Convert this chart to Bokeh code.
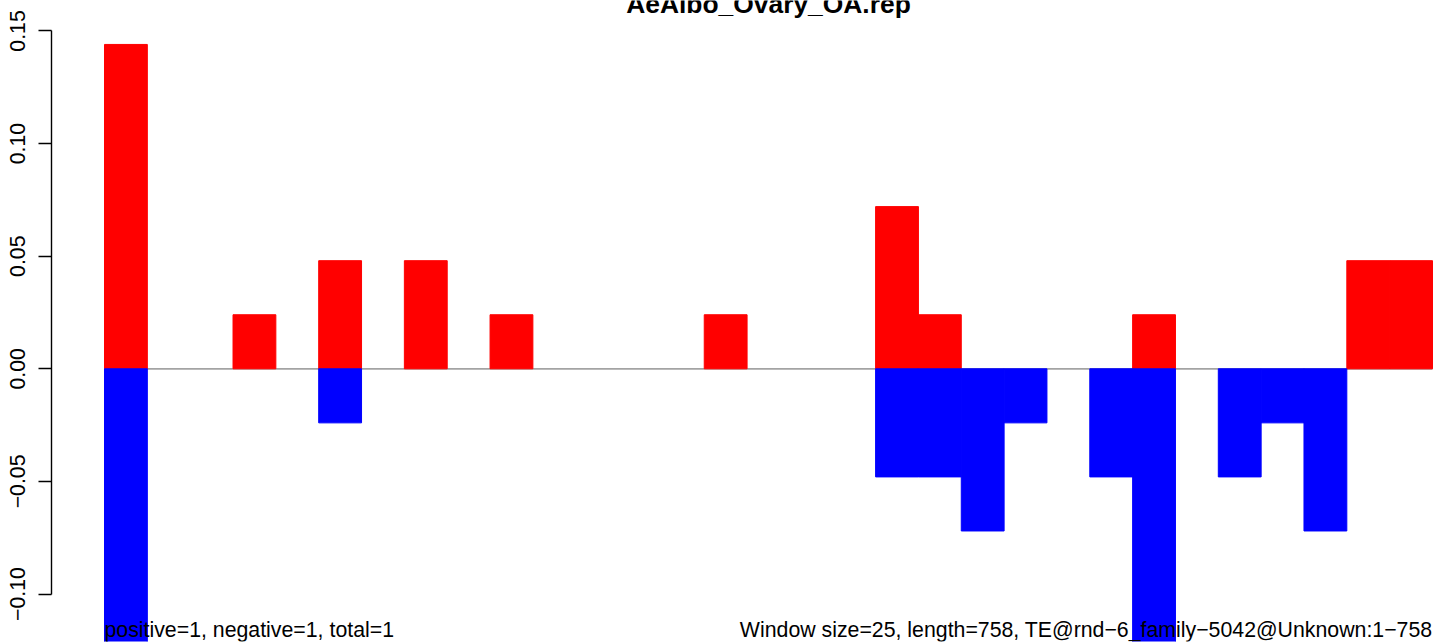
from bokeh.plotting import figure
from bokeh.models import FixedTicker, Label, ColumnDataSource
from bokeh.embed import file_html
from bokeh.resources import INLINE

# ---------------- data ----------------
title_text = "AeAlbo_Ovary_OA.rep"
left_note = "positive=1, negative=1, total=1"
right_note = "Window size=25, length=758, TE@rnd\u22126_family\u22125042@Unknown:1\u2212758"

window_index = list(range(31))
positive = [0.144, 0, 0, 0.024, 0, 0.048, 0, 0.048, 0, 0.024,
            0, 0, 0, 0, 0.024, 0, 0, 0, 0.072, 0.024,
            0, 0, 0, 0, 0.024, 0, 0, 0, 0, 0.048, 0.048]
negative = [-0.144, 0, 0, 0, 0, -0.024, 0, 0, 0, 0,
            0, 0, 0, 0, 0, 0, 0, 0, -0.048, -0.048,
            -0.072, -0.024, 0, -0.048, -0.144, 0, -0.048, -0.024, -0.072, 0, 0]
tick_values = [-0.10, -0.05, 0.0, 0.05, 0.10, 0.15]
tick_labels = ["\u22120.10", "\u22120.05", "0.00", "0.05", "0.10", "0.15"]

# ---------------- layout constants (pixels) ----------------
W, H = 1441, 643
FL, FR, FT, FB = 51, 1441, 0, 641          # frame edges
BAR0, BAR_END = 104, 1432                  # first bar left edge, last bar right edge
ZERO_PX, PX_PER_UNIT = 368.3, 2252.5

n = len(window_index)
bw = (BAR_END - BAR0) / n
x_start = (FL - BAR0) / bw
x_end = n + (FR - BAR_END) / bw
y_end = (ZERO_PX - FT) / PX_PER_UNIT
y_start = -(FB - ZERO_PX) / PX_PER_UNIT


def ydata(py):
    return (ZERO_PX - py) / PX_PER_UNIT


p = figure(width=W, height=H, output_backend="svg", toolbar_location=None,
           x_range=(x_start, x_end), y_range=(y_start, y_end),
           x_axis_type=None,
           min_border_left=FL, min_border_right=W - FR,
           min_border_top=FT, min_border_bottom=H - FB,
           outline_line_color=None,
           background_fill_color="white", border_fill_color="white")
p.grid.visible = False


def bars(values):
    idx = [i for i, v in zip(window_index, values) if v != 0]
    return ColumnDataSource(dict(
        left=idx,
        right=[i + 1 for i in idx],
        val=[values[i] for i in idx],
    ))


p.segment(x0=0, x1=n, y0=0, y1=0, line_color="#a3a3a3", line_width=1.7)
p.quad(left="left", right="right", bottom=0, top="val", source=bars(positive),
       fill_color="#ff0000", line_color="#ff0000", line_width=1.0)
p.quad(left="left", right="right", bottom="val", top=0, source=bars(negative),
       fill_color="#0000ff", line_color="#0000ff", line_width=1.0)

ax = p.yaxis[0]
ax.ticker = FixedTicker(ticks=tick_values)
ax.major_label_overrides = dict(zip(tick_values, tick_labels))
ax.bounds = (min(tick_values), max(tick_values))
ax.axis_line_color = "black"
ax.axis_line_width = 1.4
ax.major_tick_line_color = "black"
ax.major_tick_line_width = 1.4
ax.major_tick_out = 13
ax.major_tick_in = 0
ax.minor_tick_out = 0
ax.minor_tick_in = 0
ax.major_label_standoff = 13
ax.major_label_orientation = "vertical"
ax.major_label_text_font = "Liberation Sans"
ax.major_label_text_font_size = "21.3px"
ax.major_label_text_color = "black"

p.add_layout(Label(x=n / 2, y=ydata(3), text=title_text,
                   text_font="Liberation Sans", text_font_style="bold",
                   text_font_size="26.4px", text_align="center",
                   text_baseline="alphabetic", text_color="black"))
p.add_layout(Label(x=0, y=ydata(629.6), text=left_note,
                   text_font="Liberation Sans", text_font_size="21.3px",
                   text_align="left", text_baseline="alphabetic",
                   text_color="black"))
p.add_layout(Label(x=n, y=ydata(629.6), text=right_note,
                   text_font="Liberation Sans", text_font_size="21.3px",
                   text_align="right", text_baseline="alphabetic",
                   text_color="black"))

open("out.html", "w").write(file_html(p, INLINE))
